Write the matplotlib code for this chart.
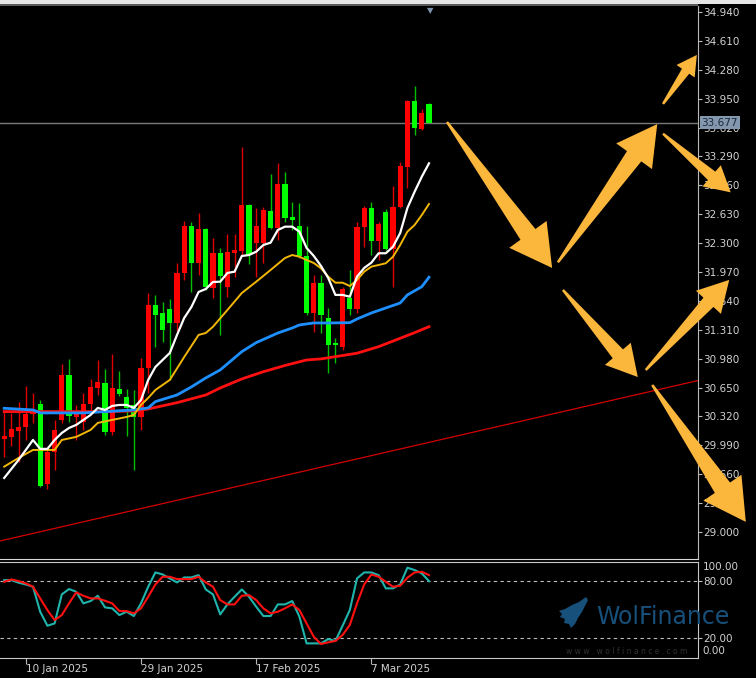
"""Silver daily candles with MAs, stochastic panel and scenario arrows (MT5 style)."""
import numpy as np
import matplotlib
matplotlib.use("Agg")
import matplotlib.pyplot as plt
from matplotlib.patches import Polygon, Rectangle
from matplotlib.transforms import blended_transform_factory, IdentityTransform

# ---- data (bar index 0..59, red = up bar, green = down bar) ----
opens = [30.063, 30.082, 30.158, 30.200, 30.348, 30.462, 29.549, 29.914, 30.280, 30.797,
         30.318, 30.260, 30.462, 30.645, 30.706, 30.146, 30.634, 30.546, 30.451, 30.318,
         30.874, 31.593, 31.502, 31.548, 31.391, 31.959, 32.499, 32.073, 32.461, 31.785,
         32.191, 31.802, 32.191, 32.214, 32.735, 32.305, 32.305, 32.667, 32.473, 32.975,
         32.598, 32.495, 32.153, 31.502, 31.845, 31.445, 31.159, 31.117, 31.673, 31.548,
         32.488, 32.701, 32.324, 32.659, 32.229, 32.709, 33.173, 33.927, 33.600, 33.889]
highs = [30.375, 30.363, 30.485, 30.668, 30.588, 30.508, 29.937, 30.280, 30.920, 30.977,
         30.451, 30.590, 30.748, 30.965, 30.862, 31.034, 30.839, 30.634, 30.622, 30.988,
         31.730, 31.707, 31.631, 31.662, 32.073, 32.556, 32.545, 32.648, 32.470, 32.359,
         32.244, 32.404, 32.404, 33.398, 32.747, 32.701, 32.716, 33.090, 33.215, 33.116,
         32.773, 32.758, 32.495, 31.936, 31.936, 31.559, 31.216, 31.800, 31.993, 32.545,
         32.724, 32.773, 32.545, 32.690, 32.953, 33.230, 33.930, 34.095, 33.832, 33.904]
lows = [29.861, 29.983, 29.804, 30.051, 30.246, 29.515, 29.492, 29.709, 30.246, 30.260,
        30.051, 30.166, 30.375, 30.565, 30.109, 30.109, 30.555, 30.097, 29.709, 30.166,
        30.588, 31.117, 31.174, 30.737, 31.300, 31.879, 31.745, 31.936, 31.765, 31.673,
        31.251, 31.685, 31.917, 32.164, 32.062, 31.917, 32.073, 32.461, 32.336, 32.545,
        32.450, 32.130, 31.479, 31.288, 31.273, 30.817, 30.931, 31.080, 31.479, 31.502,
        32.259, 32.164, 32.107, 32.220, 31.802, 32.700, 32.930, 33.535, 33.590, 33.677]
closes = [30.100, 30.174, 30.200, 30.348, 30.394, 29.530, 29.918, 30.166, 30.794, 30.325,
          30.363, 30.462, 30.660, 30.714, 30.140, 30.645, 30.577, 30.417, 30.314, 30.877,
          31.593, 31.479, 31.308, 31.391, 31.959, 32.499, 32.073, 32.461, 31.802, 32.191,
          31.925, 32.202, 32.222, 32.735, 32.164, 32.499, 32.678, 32.473, 32.975, 32.587,
          32.564, 32.153, 31.502, 31.845, 31.479, 31.136, 31.136, 31.776, 31.548, 32.488,
          32.701, 32.324, 32.519, 32.229, 32.716, 33.181, 33.927, 33.612, 33.790, 33.677]
last_price = 33.677

# moving averages, read at selected bars
ma_white_x = [0, 2, 4, 5, 6, 7, 8, 9, 10, 11, 12, 13, 14, 15, 16, 17, 18, 19, 20, 21, 22, 23, 24,
              25, 26, 27, 28, 29, 30, 31, 32, 33, 34, 35, 36, 37, 38, 39, 40, 41, 42, 43, 44,
              45, 46, 47, 48, 49, 50, 51, 52, 53, 54, 55, 56, 57, 58, 59]
ma_white_y = [29.617, 29.823, 30.051, 29.949, 29.949, 30.051, 30.131, 30.188, 30.223, 30.280,
              30.337, 30.417, 30.394, 30.440, 30.451, 30.451, 30.417, 30.508, 30.737, 30.885,
              30.965, 31.045, 31.251, 31.445, 31.570, 31.742, 31.776, 31.856, 31.859, 31.959,
              31.974, 32.153, 32.164, 32.202, 32.279, 32.305, 32.450, 32.488, 32.488, 32.431,
              32.244, 32.153, 32.039, 31.902, 31.708, 31.708, 31.688, 31.917, 32.016, 32.077,
              32.184, 32.184, 32.259, 32.416, 32.701, 32.887, 33.059, 33.212]
ma_yellow_x = [0, 2, 4, 6, 7, 8, 10, 12, 13, 15, 17, 18, 19, 20, 21, 23, 25, 27, 28, 29, 31,
               33, 35, 37, 39, 40, 41, 42, 43, 44, 45, 46, 47, 48, 49, 50, 51, 52, 53, 54,
               55, 56, 57, 58, 59]
ma_yellow_y = [29.746, 29.846, 29.937, 29.937, 29.937, 30.051, 30.086, 30.166, 30.246, 30.280,
               30.314, 30.337, 30.451, 30.531, 30.622, 30.737, 30.999, 31.251, 31.273, 31.345,
               31.536, 31.730, 31.859, 31.993, 32.130, 32.164, 32.145, 32.107, 32.073, 32.012,
               31.917, 31.848, 31.848, 31.810, 31.879, 31.974, 32.031, 32.050, 32.070, 32.145,
               32.279, 32.431, 32.507, 32.621, 32.747]
ma_blue_x = [0, 4, 5, 11, 14, 18, 20, 21, 24, 26, 28, 30, 33, 35, 38, 40, 41, 43, 45, 48, 49,
             51, 53, 55, 56, 58, 59]
ma_blue_y = [30.413, 30.394, 30.360, 30.360, 30.375, 30.394, 30.417, 30.489, 30.565, 30.657,
             30.760, 30.851, 31.060, 31.163, 31.273, 31.330, 31.365, 31.388, 31.388, 31.391,
             31.433, 31.502, 31.559, 31.616, 31.708, 31.802, 31.910]
ma_red_x = [0, 9, 14, 18, 20, 24, 28, 30, 33, 36, 39, 42, 44, 46, 49, 52, 55, 57, 59]
ma_red_y = [30.375, 30.375, 30.375, 30.383, 30.405, 30.477, 30.565, 30.645, 30.748, 30.831,
            30.902, 30.965, 30.977, 31.003, 31.042, 31.117, 31.213, 31.277, 31.345]

# stochastic oscillator, one value per bar
stoch_main = [80.6, 80.6, 77.9, 76.1, 73.7, 47.7, 33.1, 35.5, 65.7, 71.3,
              68.5, 56.4, 58.8, 64.3, 52.2, 51.2, 44.2, 47.7, 43.2, 56.4,
              73.7, 88.6, 86.5, 82.4, 78.2, 83.4, 83.4, 85.8, 70.9, 65.7,
              44.9, 55.3, 63.3, 70.9, 63.3, 52.9, 43.2, 43.2, 55.3, 55.3,
              58.8, 42.5, 14.7, 14.7, 14.7, 19.2, 17.2, 33.1, 49.4, 82.4,
              88.6, 88.6, 85.8, 72.0, 72.0, 76.1, 93.5, 91.1, 87.6, 79.6]
stoch_signal = [78.9, 81.3, 79.6, 77.2, 73.7, 61.6, 49.4, 39.0, 44.2, 56.4,
                67.8, 64.3, 61.6, 61.6, 59.1, 56.4, 48.4, 48.4, 46.0, 51.2,
                63.3, 76.1, 84.1, 84.1, 81.7, 81.7, 81.7, 84.1, 78.2, 73.7,
                59.8, 55.3, 55.3, 64.3, 65.0, 59.8, 51.2, 46.0, 47.7, 51.2,
                55.3, 49.4, 35.5, 21.6, 14.0, 15.8, 17.2, 23.4, 33.8, 56.4,
                76.1, 86.5, 84.1, 78.9, 73.7, 74.8, 83.1, 88.6, 89.3, 85.8]
stoch_levels = [80, 20]

# long trend line (bar index, price)
trend_x = [-0.58, 96.36]
trend_y = [28.897, 30.730]

# scenario arrows: (tail bar, tail price, head bar, head price)
arrows = [
    (61.5, 33.684, 76.1, 32.016),
    (76.9, 32.080, 90.7, 33.660),
    (91.5, 33.890, 96.2, 34.450),
    (91.5, 33.550, 100.9, 32.880),
    (77.6, 31.765, 88.0, 30.770),
    (89.1, 30.850, 100.7, 31.880),
    (90.0, 30.680, 103.0, 29.115),
]
arrow_head_px = [46, 44, 22, 28, 34, 34, 46]

price_ticks = [34.940, 34.610, 34.280, 33.950, 33.620, 33.290, 32.960, 32.630, 32.300,
               31.970, 31.640, 31.310, 30.980, 30.650, 30.320, 29.990, 29.660, 29.330, 29.000]
date_ticks = [3, 19, 35, 51]
date_labels = ["10 Jan 2025", "29 Jan 2025", "17 Feb 2025", "7 Mar 2025"]

# ---- layout (pixel based, 756 x 678) ----
W, H = 756, 678
XLIM = (-0.583, 96.36)


def rect(x0, y0, x1, y1):
    return [x0 / W, 1 - y1 / H, (x1 - x0) / W, (y1 - y0) / H]


def arrow_poly(p0, p1, head_w):
    """Tapered arrow outline in display pixels: thin tail, wide shaft, triangular head."""
    p0, p1 = np.asarray(p0, float), np.asarray(p1, float)
    d = p1 - p0
    u = d / np.hypot(*d)
    n = np.array([-u[1], u[0]])
    head_l = head_w * 0.9
    shaft_w = head_w * 0.4
    base = p1 - u * head_l
    return [p0 + n * 1.2, base + n * shaft_w / 2, base + n * head_w / 2, p1,
            base - n * head_w / 2, base - n * shaft_w / 2, p0 - n * 1.2]


fig = plt.figure(figsize=(W / 100, H / 100), dpi=100, facecolor="black")
ax = fig.add_axes(rect(0, 6, 698, 559), facecolor="black")
axs = fig.add_axes(rect(0, 561.5, 698, 657.5), facecolor="black")

AXC = "#b8b8b8"
TXT = "#d2d2d2"
UP, DOWN = "#ff0000", "#00ff00"

# candles
for i, (o, h, l, c) in enumerate(zip(opens, highs, lows, closes)):
    up = c >= o
    body_c = UP if up else DOWN
    wick_c = "#e00000" if up else "#00c000"
    ax.vlines(i, l, h, color=wick_c, linewidth=1.0, zorder=3)
    ax.bar(i, max(abs(c - o), 0.012), bottom=min(o, c), width=0.72,
           color=body_c, linewidth=0, zorder=4)

ax.plot(ma_red_x, ma_red_y, color="#ff1010", linewidth=2.0, zorder=5)
ax.plot(ma_blue_x, ma_blue_y, color="#1e8fff", linewidth=2.0, zorder=5)
ax.plot(ma_yellow_x, ma_yellow_y, color="#f2b705", linewidth=1.4, zorder=6)
ax.plot(ma_white_x, ma_white_y, color="#ffffff", linewidth=1.6, zorder=7)

ax.plot(trend_x, trend_y, color="#d40000", linewidth=0.9, zorder=2)
ax.axhline(last_price, color="#7a7a7a", linewidth=1.0, zorder=1)

ax.set_xlim(*XLIM)
ax.set_ylim(28.691, 35.009)
for s in ("left", "top"):
    ax.spines[s].set_visible(False)
ax.spines["right"].set_color(AXC)
ax.spines["bottom"].set_color("#d8d8d8")
ax.yaxis.tick_right()
ax.set_yticks(price_ticks)
ax.set_yticklabels([f"{v:.3f}" for v in price_ticks])
ax.tick_params(axis="y", colors=AXC, labelcolor=TXT, length=3, width=0.8,
               labelsize=7.5, pad=1)
ax.set_xticks([])

# current price tag
tr = blended_transform_factory(ax.transAxes, ax.transData)
ax.text(1.005, last_price, f"{last_price:.3f}", transform=tr, ha="left", va="center",
        fontsize=7.5, color="#1a2838", zorder=20, clip_on=False,
        bbox=dict(boxstyle="square,pad=0.18", fc="#8398ae", ec="none"))

# shift marker
ax.text(59.1, 34.96, "\u25bc", ha="center", va="center", fontsize=6,
        color="#7d95ad", clip_on=False, zorder=10)

# scenario arrows, drawn in display pixels from data anchors
for (x0, y0, x1, y1), hw in zip(arrows, arrow_head_px):
    p0 = ax.transData.transform((x0, y0))
    p1 = ax.transData.transform((x1, y1))
    fig.add_artist(Polygon(arrow_poly(p0, p1, hw), closed=True, transform=IdentityTransform(),
                           facecolor="#fbb63c", edgecolor="none", zorder=30))

# stochastic panel
xs = list(range(len(stoch_main)))
for lv in stoch_levels:
    axs.axhline(lv, color="#bdbdbd", linewidth=0.8, linestyle=(0, (3, 3)), zorder=1)
axs.plot(xs, stoch_main, color="#1fb5ac", linewidth=1.5, zorder=3)
axs.plot(xs, stoch_signal, color="#ff1010", linewidth=1.5, zorder=4)
axs.set_xlim(*XLIM)
axs.set_ylim(0, 100)
axs.spines["left"].set_visible(False)
for s in ("top", "bottom", "right"):
    axs.spines[s].set_color("#c8c8c8")
axs.yaxis.tick_right()
axs.set_yticks(stoch_levels)
axs.set_yticklabels(["80.00", "20.00"])
axs.tick_params(axis="y", colors=AXC, labelcolor=TXT, length=3, width=0.8,
                labelsize=7.5, pad=1)
trs = blended_transform_factory(axs.transAxes, axs.transData)
axs.text(1.0065, 94.0, "100.00", transform=trs, ha="left", va="center",
         fontsize=7.5, color=TXT, clip_on=False)
axs.text(1.0065, 6.8, "0.00", transform=trs, ha="left", va="center",
         fontsize=7.5, color=TXT, clip_on=False)
axs.set_xticks(date_ticks)
axs.set_xticklabels(date_labels, ha="left")
axs.tick_params(axis="x", colors=AXC, labelcolor=TXT, length=4, width=0.8,
                labelsize=7.5, pad=1)

# watermark: wolf head + name
wolf = [(586, 597), (579, 602), (572, 605), (565, 609), (559, 611), (562, 614), (560, 617),
        (565, 619), (564, 623), (569, 624), (571, 628), (575, 624), (578, 618), (582, 612),
        (585, 606), (588, 600)]
fig.add_artist(Polygon([(x, H - y) for x, y in wolf], closed=True, transform=IdentityTransform(),
                       facecolor="#17507a", edgecolor="none", zorder=2))
fig.text(596 / W, 1 - 617 / H, "WolFinance", fontsize=17, color="#17507a",
         ha="left", va="center", zorder=2)
fig.text(566 / W, 1 - 651 / H, "w w w . w o l f i n a n c e . c o m", fontsize=5.5,
         color="#303030", ha="left", va="center", zorder=2)

# toolbar strip at the top
fig.patches.append(Rectangle((0, 1 - 4 / H), 1, 4 / H, transform=fig.transFigure,
                             facecolor="#e6e6e6", edgecolor="none"))
fig.patches.append(Rectangle((0, 1 - 6 / H), 698 / W, 2 / H, transform=fig.transFigure,
                             facecolor="#5a5a5a", edgecolor="none"))

fig.savefig("out.png", dpi=100, facecolor="black")
